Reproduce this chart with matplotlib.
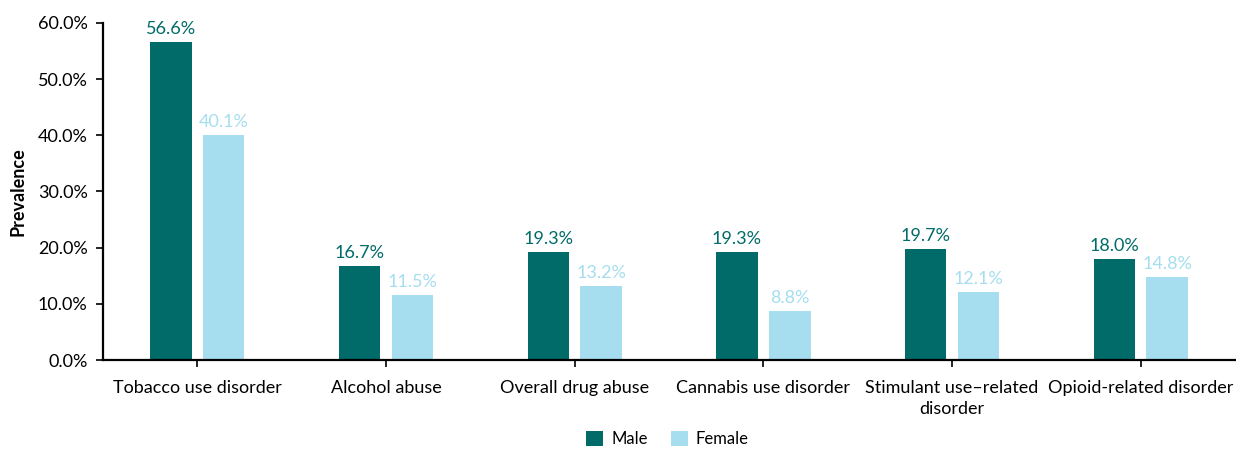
import matplotlib
matplotlib.use("Agg")
import matplotlib.pyplot as plt
import numpy as np

categories = ["Tobacco use disorder", "Alcohol abuse", "Overall drug abuse",
              "Cannabis use disorder", "Stimulant use\u2013related\ndisorder",
              "Opioid-related disorder"]
male = [56.6, 16.7, 19.3, 19.3, 19.7, 18.0]
female = [40.1, 11.5, 13.2, 8.8, 12.1, 14.8]

male_color = "#006B68"
female_color = "#A6DEF0"

plt.rcParams['font.family'] = ['Lato', 'DejaVu Sans']

fig = plt.figure(figsize=(12.36, 4.49), dpi=100)
ax = fig.add_axes([0.0833, 0.198, 0.916, 0.751])

x = np.arange(len(categories))
w = 0.22
off = 0.14
b1 = ax.bar(x - off, male, w, color=male_color, label="Male")
b2 = ax.bar(x + off, female, w, color=female_color, label="Female")

for xi, v in zip(x, male):
    ax.text(xi - off, v + 0.9, "%.1f%%" % v, ha="center", va="bottom",
            fontsize=13, color=male_color)
for xi, v in zip(x, female):
    ax.text(xi + off, v + 0.9, "%.1f%%" % v, ha="center", va="bottom",
            fontsize=13, color=female_color)

ax.set_xlim(-0.5, len(categories) - 0.5)
ax.set_ylim(0, 60)
ax.set_yticks(np.arange(0, 61, 10))
ax.set_yticklabels(["%.1f%%" % t for t in np.arange(0, 61, 10)], fontsize=13)
ax.set_xticks(x)
ax.set_xticklabels(categories, fontsize=13, linespacing=1.45)
ax.tick_params(axis="both", direction="out", length=5, width=1.2, colors="black")
ax.tick_params(axis="y", pad=6)
ax.tick_params(axis="x", pad=9)
ax.set_ylabel("Prevalence", fontsize=13, fontweight="bold", labelpad=8)

for s in ["top", "right"]:
    ax.spines[s].set_visible(False)
for s in ["left", "bottom"]:
    ax.spines[s].set_linewidth(1.6)
    ax.spines[s].set_color("black")

fig.legend(handles=[b1, b2], labels=["Male", "Female"], loc="lower center",
           bbox_to_anchor=(0.54, -0.03), ncol=2, frameon=False, fontsize=12,
           handlelength=1.0, handleheight=1.0, columnspacing=1.4, handletextpad=0.5)

fig.savefig("out.png", dpi=100)
